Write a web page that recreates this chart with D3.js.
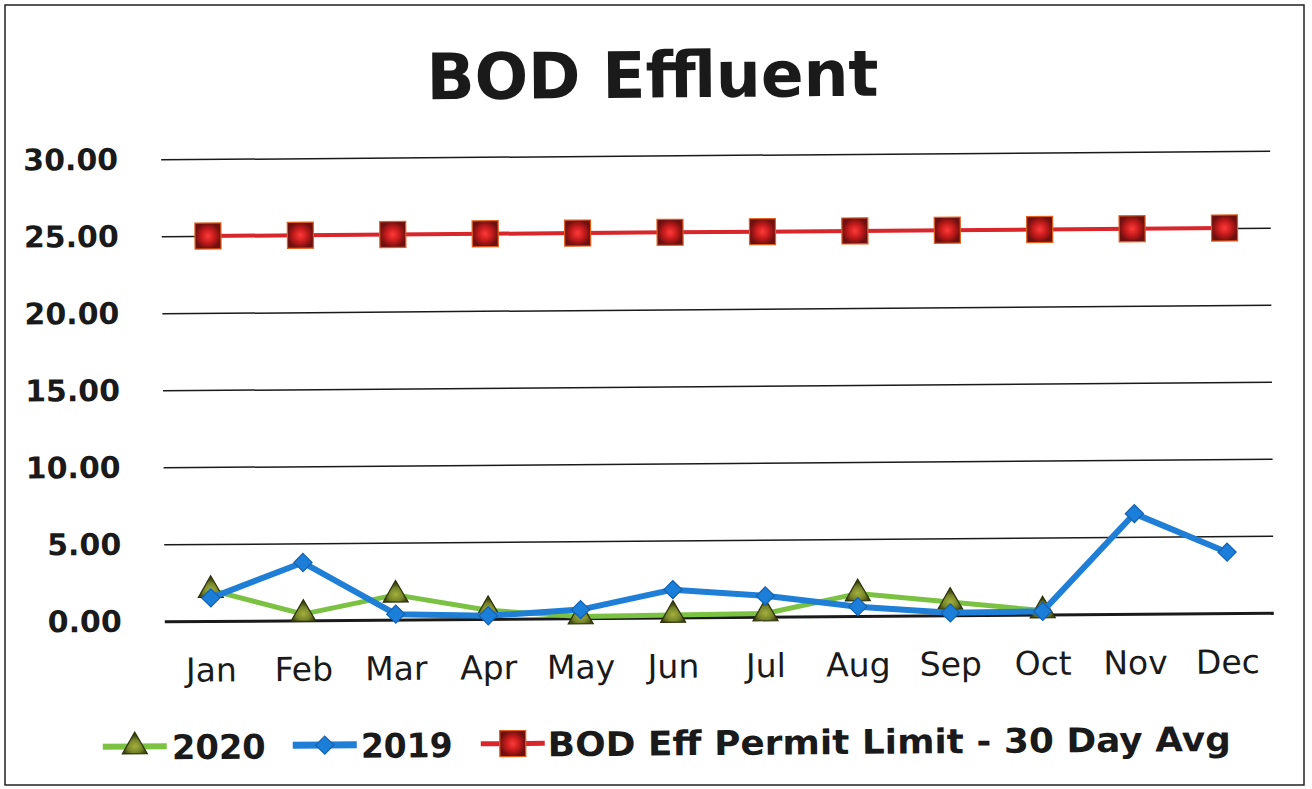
<!DOCTYPE html>
<html>
<head>
<meta charset="utf-8">
<script src="https://cdn.jsdelivr.net/npm/d3@7/dist/d3.min.js"></script>
<style>
  body { margin: 0; background: #fff; }
  svg { display: block; }
</style>
</head>
<body>
<div id="canvas"></div>
<script>
// chart values
var months = ['Jan', 'Feb', 'Mar', 'Apr', 'May', 'Jun', 'Jul', 'Aug', 'Sep', 'Oct', 'Nov', 'Dec'];
var bod2020 = [2.0, 0.4, 1.6, 0.55, 0.1, 0.15, 0.2, 1.45, 0.85, 0.25];
var bod2019 = [1.5, 3.75, 0.35, 0.2, 0.55, 1.8, 1.35, 0.6, 0.15, 0.2, 6.5, 3.95];
var permit = [25, 25, 25, 25, 25, 25, 25, 25, 25, 25, 25, 25];
var yTicks = [0, 5, 10, 15, 20, 25, 30];

var W = 1312, H = 789;
var chart = {
  init: function() {
    var svg = d3.select('#canvas').append('svg')
      .attr('width', W)
      .attr('height', H);

    var defs = svg.append('defs');
    var rg = defs.append('radialGradient').attr('id', 'sq');
    rg.append('stop').attr('offset', '0%').attr('stop-color', '#ff3a3a');
    rg.append('stop').attr('offset', '55%').attr('stop-color', '#c21a1a');
    rg.append('stop').attr('offset', '100%').attr('stop-color', '#6e1010');
    var tg = defs.append('radialGradient').attr('id', 'tri').attr('cy', '65%');
    tg.append('stop').attr('offset', '0%').attr('stop-color', '#a3b03a');
    tg.append('stop').attr('offset', '60%').attr('stop-color', '#76842a');
    tg.append('stop').attr('offset', '100%').attr('stop-color', '#3d4610');

    // page border
    svg.append('rect')
      .attr('x', 5).attr('y', 5).attr('width', 1299).attr('height', 780)
      .attr('fill', 'none').attr('stroke', '#222').attr('stroke-width', 1.5);

    // scanned page is a bit tilted
    var g = svg.append('g').attr('transform', 'rotate(-0.45,717,390)');

    var x = d3.scaleBand().domain(months).range([163, 1272]);
    var y = d3.scaleLinear().domain([0, 30]).range([617, 155]);
    var cx = function(d, i) { return x(months[i]) + x.bandwidth() / 2; };

    g.append('text')
      .attr('x', 655).attr('y', 97)
      .attr('text-anchor', 'middle')
      .attr('font-family', 'DejaVu Sans').attr('font-weight', 'bold')
      .attr('font-size', 64).attr('fill', '#1a1a1a')
      .attr('textLength', 452).attr('lengthAdjust', 'spacingAndGlyphs')
      .text('BOD Effluent');

    // gridlines + y labels
    var yAxis = d3.axisLeft(y).tickValues(yTicks)
      .tickSize(-(1272 - 163)).tickFormat(d3.format('.2f')).tickPadding(43);
    var ya = g.append('g').attr('transform', 'translate(163,0)').call(yAxis);
    ya.select('.domain').remove();
    ya.selectAll('.tick line')
      .attr('stroke', '#1a1a1a')
      .attr('stroke-width', function(d) { return d === 0 ? 3 : 1.5; });
    ya.selectAll('.tick text')
      .attr('font-family', 'DejaVu Sans').attr('font-weight', 'bold')
      .attr('font-size', 30).attr('fill', '#1a1a1a');

    // x labels
    var xAxis = d3.axisBottom(x).tickSize(0).tickPadding(0);
    var xa = g.append('g').attr('transform', 'translate(0,654)').call(xAxis);
    xa.select('.domain').remove();
    xa.selectAll('.tick text')
      .attr('font-family', 'DejaVu Sans').attr('font-size', 33)
      .attr('fill', '#1a1a1a').attr('dy', '0.71em');

    var line = d3.line().x(cx).y(function(d) { return y(d); });

    var tri = d3.symbol().type(d3.symbolTriangle).size(270);
    var dia = d3.symbol().type(d3.symbolSquare).size(165);
    var sq = d3.symbol().type(d3.symbolSquare).size(676);

    var series = [
      { name: '2020', data: bod2020, color: '#7cc242', width: 5, sym: tri, rot: 0, fill: 'url(#tri)', stroke: '#2c3008' },
      { name: '2019', data: bod2019, color: '#1f7ed6', width: 6, sym: dia, rot: 45, fill: '#1b7fd9', stroke: '#1560b0' },
      { name: 'BOD Eff Permit Limit - 30 Day Avg', data: permit, color: '#d8262b', width: 4, sym: sq, rot: 0, fill: 'url(#sq)', stroke: '#e0601e' }
    ];

    series.forEach(function(s) {
      g.append('path').datum(s.data)
        .attr('d', line).attr('fill', 'none')
        .attr('stroke', s.color).attr('stroke-width', s.width)
        .attr('stroke-linejoin', 'round');
      g.selectAll(null).data(s.data).enter().append('path')
        .attr('d', s.sym)
        .attr('transform', function(d, i) {
          return 'translate(' + cx(d, i) + ',' + y(d) + ') rotate(' + s.rot + ')';
        })
        .attr('fill', s.fill).attr('stroke', s.stroke).attr('stroke-width', 1.2);
    });

    // legend
    var legX = [100, 290, 478];
    var legText = [[169, 94], [358, 92], [545, 683]];
    var lg = g.append('g').attr('transform', 'translate(0,742)');
    series.forEach(function(s, i) {
      lg.append('line')
        .attr('x1', legX[i]).attr('x2', legX[i] + 64)
        .attr('stroke', s.color).attr('stroke-width', s.width + 1);
      lg.append('path').attr('d', s.sym)
        .attr('transform', 'translate(' + (legX[i] + 32) + ',0) rotate(' + s.rot + ')')
        .attr('fill', s.fill).attr('stroke', s.stroke).attr('stroke-width', 1.2);
      lg.append('text')
        .attr('x', legText[i][0]).attr('y', 13)
        .attr('font-family', 'DejaVu Sans').attr('font-weight', 'bold')
        .attr('font-size', 34).attr('fill', '#1a1a1a')
        .attr('textLength', legText[i][1]).attr('lengthAdjust', 'spacingAndGlyphs')
        .text(s.name);
    });
  }
};
chart.init();
</script>
</body>
</html>
